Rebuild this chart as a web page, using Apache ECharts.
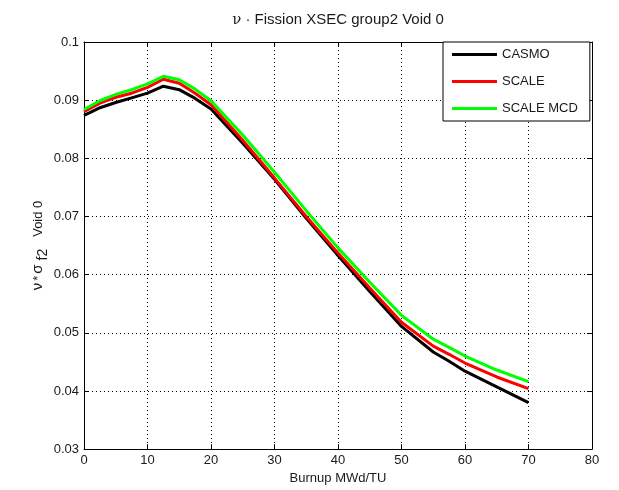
<!DOCTYPE html>
<html>
<head>
<meta charset="utf-8">
<script src="https://cdn.jsdelivr.net/npm/echarts@6/dist/echarts.min.js"></script>
<style>
  html, body { margin: 0; padding: 0; background: #fff; }
  #chart { width: 619px; height: 490px; }
</style>
</head>
<body>
<div id="chart"></div>
<script>
// Burnup steps (MWd/TU) and the nu-fission cross section, group 2, void 0
const burnup   = [0, 1, 2.5, 5, 7.5, 10, 12.5, 15, 17.5, 20, 25, 30, 35, 40, 45, 50, 55, 57.5, 60, 65, 70];
const casmo    = [0.0874, 0.0879, 0.0887, 0.0896, 0.0904, 0.0912, 0.0924, 0.0918, 0.0903, 0.0885, 0.0826, 0.0764, 0.0697, 0.0633, 0.0571, 0.0511, 0.0467, 0.0451, 0.0434, 0.0407, 0.0380];
const scale    = [0.0880, 0.0886, 0.0895, 0.0905, 0.0912, 0.0922, 0.0936, 0.0929, 0.0912, 0.0892, 0.0831, 0.0766, 0.0700, 0.0637, 0.0577, 0.0518, 0.0477, 0.0463, 0.0448, 0.0424, 0.0404];
const scaleMcd = [0.0884, 0.0890, 0.0899, 0.0910, 0.0918, 0.0928, 0.0941, 0.0935, 0.0919, 0.0899, 0.0840, 0.0776, 0.0710, 0.0646, 0.0587, 0.0530, 0.0489, 0.0475, 0.0460, 0.0436, 0.0416];

const seriesNames  = ['CASMO', 'SCALE', 'SCALE MCD'];
const seriesColors = ['#000000', '#ff0000', '#00ff00'];
const seriesValues = [casmo, scale, scaleMcd];

const xTicks = { min: 0, max: 80, interval: 10 };
const yTicks = { min: 0.03, max: 0.1, interval: 0.01 };

const FONT = '"Liberation Sans", Arial, Helvetica, sans-serif';
const SERIF = '"DejaVu Serif", "Liberation Serif", serif';
const TXT = '#1a1a1a';

const W = 619, H = 490;
const grid = { left: 84, right: 27, top: 42, bottom: 39 };
const plotCx = grid.left + (W - grid.left - grid.right) / 2;
const plotCy = grid.top + (H - grid.top - grid.bottom) / 2;

function pairs(xs, ys) { return xs.map((x, i) => [x, ys[i]]); }

const dotted = { show: true, lineStyle: { color: '#000', width: 1, type: [1, 3] } };

function xAxisDef(pos, withLabels) {
  return {
    type: 'value', position: pos, min: xTicks.min, max: xTicks.max, interval: xTicks.interval,
    axisLine: { show: true, onZero: false, lineStyle: { color: '#000', width: 1 } },
    axisTick: { show: true, inside: true, length: 5, lineStyle: { color: '#000' } },
    axisLabel: { show: withLabels, color: TXT, fontFamily: FONT, fontSize: 13, margin: 5 },
    splitLine: withLabels ? dotted : { show: false },
    name: withLabels ? 'Burnup MWd/TU' : '',
    nameLocation: 'middle', nameGap: 22,
    nameTextStyle: { color: TXT, fontFamily: FONT, fontSize: 13 }
  };
}

function yAxisDef(pos, withLabels) {
  return {
    type: 'value', position: pos, min: yTicks.min, max: yTicks.max, interval: yTicks.interval,
    axisLine: { show: true, onZero: false, lineStyle: { color: '#000', width: 1 } },
    axisTick: { show: true, inside: true, length: 5, lineStyle: { color: '#000' } },
    axisLabel: {
      show: withLabels, color: TXT, fontFamily: FONT, fontSize: 13, margin: 5,
      formatter: v => String(Math.round(v * 100) / 100)
    },
    splitLine: withLabels ? dotted : { show: false }
  };
}

const chart = echarts.init(document.getElementById('chart'), null, { renderer: 'canvas' });

chart.setOption({
  animation: false,
  backgroundColor: '#fff',
  grid: grid,
  xAxis: [xAxisDef('bottom', true), xAxisDef('top', false)],
  yAxis: [yAxisDef('left', true), yAxisDef('right', false)],
  legend: {
    data: seriesNames,
    orient: 'vertical',
    left: 443, top: 42,
    padding: [5, 12, 5, 9],
    itemGap: 12,
    itemWidth: 45, itemHeight: 3,
    icon: 'rect',
    backgroundColor: '#fff',
    borderColor: '#000', borderWidth: 1, borderRadius: 0,
    textStyle: { color: TXT, fontFamily: FONT, fontSize: 13, lineHeight: 15 }
  },
  graphic: [
    {
      type: 'text', x: plotCx, y: 20,
      style: {
        text: '{g|ν} · Fission XSEC group2 Void 0',
        fill: TXT, font: '15px ' + FONT,
        align: 'center', verticalAlign: 'middle',
        rich: { g: { fontFamily: SERIF, fontSize: 15, fill: TXT } }
      }
    },
    {
      type: 'text', x: 38, y: plotCy, rotation: Math.PI / 2,
      style: {
        text: '{g|ν}{n|*}{g|σ}{sub|f2}{n|Void 0}',
        fill: TXT, font: '13px ' + FONT,
        align: 'center', verticalAlign: 'middle',
        rich: {
          g: { fontFamily: FONT, fontSize: 15, fill: TXT, padding: [0, 2, 0, 2] },
          n: { fontFamily: FONT, fontSize: 13, fill: TXT },
          sub: { fontFamily: FONT, fontSize: 14, fill: TXT, padding: [10, 12, 0, 2] }
        }
      }
    }
  ],
  series: seriesNames.map((name, i) => ({
    name: name,
    type: 'line',
    xAxisIndex: 0, yAxisIndex: 0,
    data: pairs(burnup, seriesValues[i]),
    showSymbol: false,
    smooth: false,
    color: seriesColors[i],
    lineStyle: { color: seriesColors[i], width: 3 },
    z: 2 + i
  }))
});
</script>
</body>
</html>
